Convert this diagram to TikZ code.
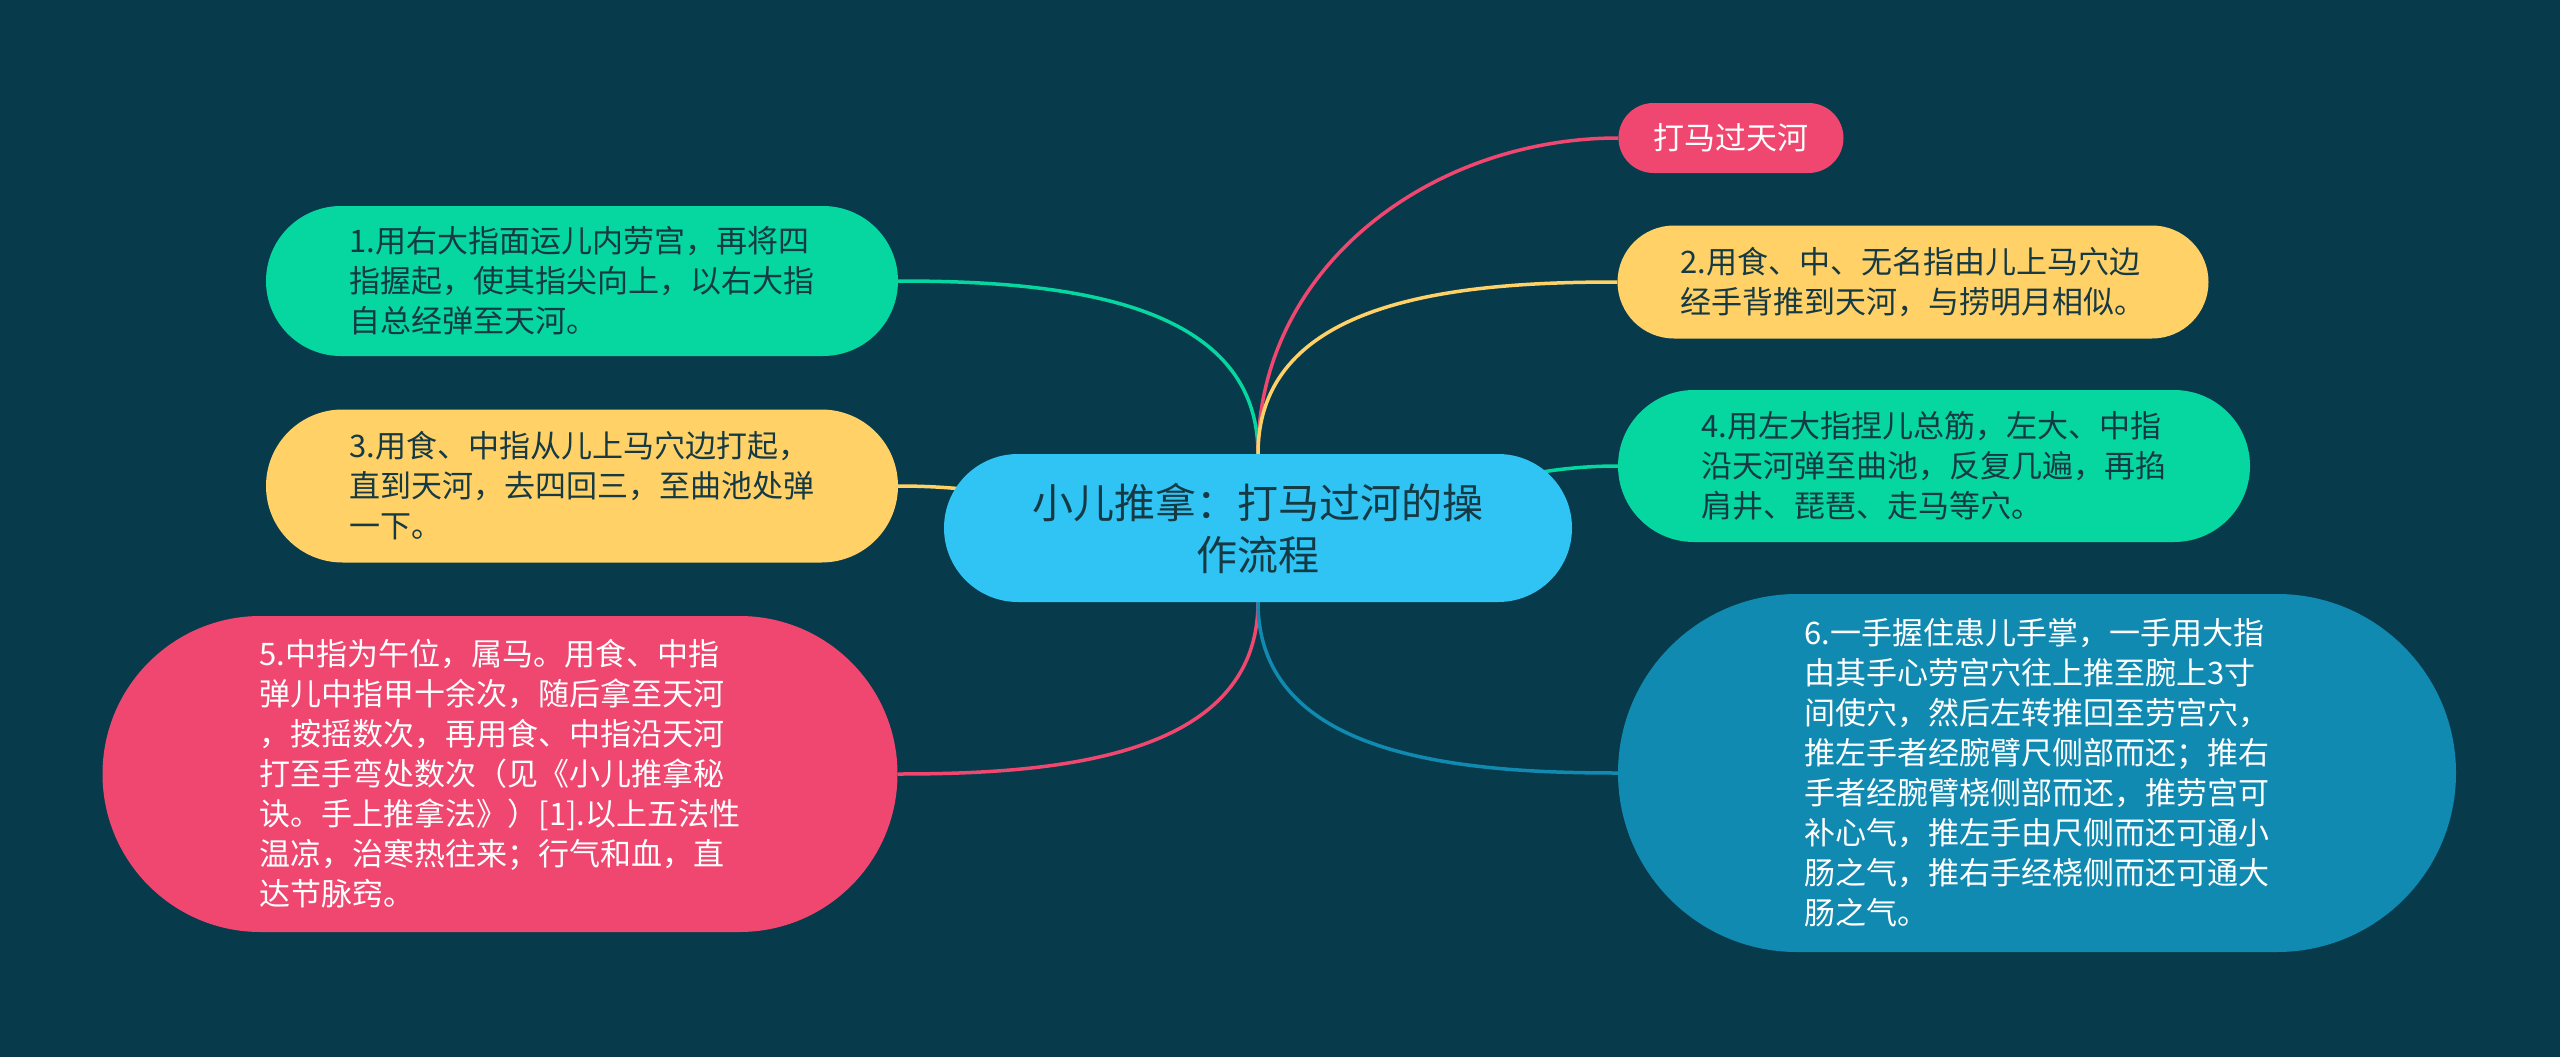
\documentclass[tikz,border=0pt]{standalone}
\usepackage{fontspec}
\setmainfont{Noto Sans CJK SC}
\usetikzlibrary{shapes.misc}
\definecolor{bgc}{HTML}{073B4C}
\definecolor{cpink}{HTML}{EF476F}
\definecolor{cyellow}{HTML}{FFD166}
\definecolor{cgreen}{HTML}{06D6A0}
\definecolor{cblue}{HTML}{118AB2}
\definecolor{ccenter}{HTML}{30C4F5}
\definecolor{cdark}{HTML}{163A44}
\pgfdeclarelayer{bgl}
\pgfdeclarelayer{edgel}
\pgfsetlayers{bgl,edgel,main}
\begin{document}
\begin{tikzpicture}[x=1pt,y=-1pt,
  box/.style={rounded rectangle, inner sep=0pt, align=left,
    font=\fontsize{31}{40}\selectfont},
  darkbox/.style={box, text=cdark},
  lightbox/.style={box, text=white},
  link/.style={line width=3.5pt}]
\useasboundingbox (0,0) rectangle (2560,1057);
\begin{pgfonlayer}{bgl}
\fill[bgc] (0,0) rectangle (2560,1057);
\end{pgfonlayer}

\node[rounded rectangle, inner sep=0pt, align=center, fill=ccenter, text=cdark,
  minimum width=628pt, minimum height=148pt,
  font=\fontsize{41}{52}\selectfont] (c) at (1258,528)
  {小儿推拿：打马过河的操\\作流程};

\node[lightbox, fill=cpink, minimum width=225pt, minimum height=70pt] (t) at (1731,138) {打马过天河};
\node[darkbox, fill=cyellow, minimum width=591pt, minimum height=113pt] (n2) at (1913,282)
  {2.用食、中、无名指由儿上马穴边\\经手背推到天河，与捞明月相似。};
\node[darkbox, fill=cgreen, minimum width=632pt, minimum height=152pt] (n4) at (1934,466)
  {4.用左大指捏儿总筋，左大、中指\\沿天河弹至曲池，反复几遍，再掐\\肩井、琵琶、走马等穴。};
\node[lightbox, fill=cblue, minimum width=838pt, minimum height=358pt] (n6) at (2037,773)
  {6.一手握住患儿手掌，一手用大指\\由其手心劳宫穴往上推至腕上3寸\\间使穴，然后左转推回至劳宫穴，\\推左手者经腕臂尺侧部而还；推右\\手者经腕臂桡侧部而还，推劳宫可\\补心气，推左手由尺侧而还可通小\\肠之气，推右手经桡侧而还可通大\\肠之气。};
\node[darkbox, fill=cgreen, minimum width=632pt, minimum height=150pt] (n1) at (582,281)
  {1.用右大指面运儿内劳宫，再将四\\指握起，使其指尖向上，以右大指\\自总经弹至天河。};
\node[darkbox, fill=cyellow, minimum width=632pt, minimum height=153pt] (n3) at (582,486)
  {3.用食、中指从儿上马穴边打起，\\直到天河，去四回三，至曲池处弹\\一下。};
\node[lightbox, fill=cpink, minimum width=795pt, minimum height=316pt] (n5) at (500,774)
  {5.中指为午位，属马。用食、中指\\弹儿中指甲十余次，随后拿至天河\\，按摇数次，再用食、中指沿天河\\打至手弯处数次（见《小儿推拿秘\\诀。手上推拿法》）[1].以上五法性\\温凉，治寒热往来；行气和血，直\\达节脉窍。};

\begin{pgfonlayer}{edgel}
\draw[link, cgreen] (n1.east) to[out=0, in=90] (c.north);
\draw[link, cyellow] (n3.east) to[out=0, in=180] (c.center);
\draw[link, cpink] (n5.east) to[out=0, in=-90] (c.south);
\draw[link, cpink] (t.west) to[out=180, in=90] (c.north);
\draw[link, cyellow] (n2.west) to[out=180, in=90] (c.north);
\draw[link, cgreen] (n4.west) to[out=180, in=0] (c.center);
\draw[link, cblue] (n6.west) to[out=180, in=-90] (c.south);
\end{pgfonlayer}
\end{tikzpicture}
\end{document}
